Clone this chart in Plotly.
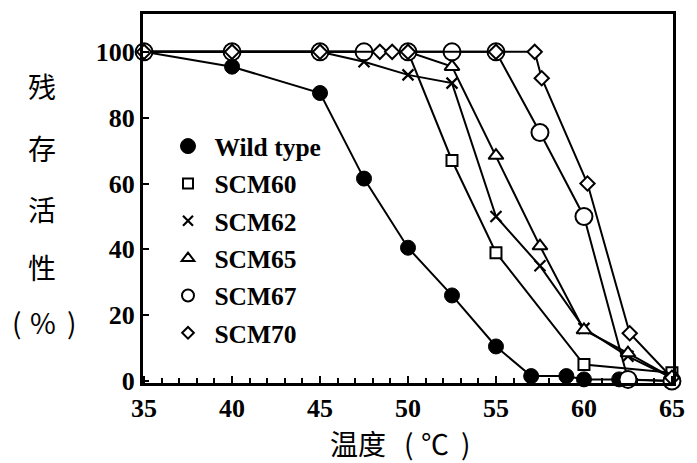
import plotly.graph_objects as go

# ---- data ----
wt_x = [35, 40, 45, 47.5, 50, 52.5, 55, 57, 59, 60, 62, 65]
wt_y = [100, 95.5, 87.5, 61.5, 40.5, 26, 10.5, 1.5, 1.5, 0.5, 0.5, 0]

scm60_x = [35, 40, 45, 47.5, 50, 52.5, 55, 60, 65]
scm60_y = [100, 100, 100, 100, 100, 67, 39, 5, 2.5]

scm62_x = [35, 40, 45, 47.5, 50, 52.5, 55, 57.5, 60, 62.5, 65]
scm62_y = [100, 100, 100, 97, 93, 90.5, 50, 35, 16, 7.5, 1]

scm65_x = [35, 40, 45, 50, 52.5, 55, 57.5, 60, 62.5, 65]
scm65_y = [100, 100, 100, 100, 95.5, 68.5, 41, 15.5, 8.5, 1]

scm67_x = [35, 40, 45, 47.5, 50, 52.5, 55, 57.5, 60, 62.5, 65]
scm67_y = [100, 100, 100, 100, 100, 100, 100, 75.5, 50, 0.5, 0]

scm70_x = [35, 40, 45, 48.4, 49.1, 50, 55, 57.2, 57.6, 60.2, 62.6, 65]
scm70_y = [100, 100, 100, 100, 100, 100, 100, 100, 92, 60, 14.5, 1]

names = ["Wild type", "SCM60", "SCM62", "SCM65", "SCM67", "SCM70"]
x_ticks = [35, 40, 45, 50, 55, 60, 65]
y_ticks = [0, 20, 40, 60, 80, 100]
y_title_chars = ["残", "存", "活", "性"]
y_title_unit = ["(", "%", ")"]
x_title_parts = ["温度", "(", "℃", ")"]

symbols = ["circle", "square", "x-thin", "triangle-up", "circle", "diamond"]
fills = ["black", "white", "black", "white", "white", "white"]
plot_sizes = [15, 11, 11, 13, 17, 11]
legend_sizes = [15, 10, 10, 11, 12, 9]
data = [(wt_x, wt_y), (scm60_x, scm60_y), (scm62_x, scm62_y),
        (scm65_x, scm65_y), (scm67_x, scm67_y), (scm70_x, scm70_y)]

fig = go.Figure()
for i, ((xs, ys), nm) in enumerate(zip(data, names)):
    lw = 2.2 if symbols[i] == "x-thin" else (1 if i == 0 else 2)
    fig.add_trace(go.Scatter(
        x=xs, y=ys, name=nm, mode="lines+markers", showlegend=False,
        line=dict(color="black", width=2),
        marker=dict(symbol=symbols[i], size=plot_sizes[i], color=fills[i],
                    line=dict(color="black", width=lw)),
        cliponaxis=False,
    ))
# legend entries (marker only, like the reference)
for i, nm in enumerate(names):
    lw = 2.2 if symbols[i] == "x-thin" else (1 if i == 0 else 2)
    fig.add_trace(go.Scatter(
        x=[None], y=[None], name="\u00a0" + nm, mode="markers", showlegend=True,
        legendgroup=f"g{i}",
        marker=dict(symbol=symbols[i], size=legend_sizes[i], color=fills[i],
                    line=dict(color="black", width=lw)),
    ))

serif = "Liberation Serif"
cjk = "Noto Sans CJK SC"
# the page body has an 8px margin, so the figure is offset by 8px
OFF = 8
W, H = 697 - OFF, 463 - OFF
PL, PT, PR, PB = 143, 14, 673, 383          # plot area in page pixels
L, T = PL - OFF, PT - OFF
R, B = (W + OFF) - PR, (H + OFF) - PB
plot_w, plot_h = PR - PL, PB - PT


def px_x(p):
    return (p - PL) / plot_w


def px_y(p):
    return 1 - (p - PT) / plot_h


fig.update_layout(
    width=W, height=H,
    margin=dict(l=L, r=R, t=T, b=B, autoexpand=False),
    paper_bgcolor="white", plot_bgcolor="white",
    showlegend=True,
    legend=dict(
        x=px_x(168), y=px_y(123), xanchor="left", yanchor="top",
        font=dict(family=serif, size=25.5, color="black", weight="bold"),
        bgcolor="rgba(0,0,0,0)", tracegroupgap=1.2, traceorder="grouped",
        itemsizing="trace",
    ),
    xaxis=dict(
        range=[34.94, 65.06], tickvals=x_ticks, ticktext=[str(v) for v in x_ticks],
        ticks="inside", ticklen=7, tickwidth=2, tickcolor="black",
        minor=dict(dtick=1, ticks="inside", ticklen=5, tickwidth=1.5, tickcolor="black"),
        showline=True, linecolor="black", linewidth=3, mirror=True,
        showgrid=False, zeroline=False,
        tickfont=dict(family=serif, size=26, color="black", weight="bold"),
    ),
    yaxis=dict(
        range=[-0.6, 111.5], tickvals=y_ticks, ticktext=[str(v) for v in y_ticks],
        ticks="inside", ticklen=6, tickwidth=2, tickcolor="black",
        showline=True, linecolor="black", linewidth=3, mirror=True,
        showgrid=False, zeroline=False,
        tickfont=dict(family=serif, size=26, color="black", weight="bold"),
    ),
)


def label(text, x, y, size=28):
    fig.add_annotation(
        text=text, xref="paper", yref="paper", x=px_x(x), y=px_y(y),
        showarrow=False, xanchor="center", yanchor="middle",
        font=dict(family=cjk, size=size, color="black"),
    )


# vertical y-axis title (one character per line)
for ch, py in zip(y_title_chars, [86, 148, 209, 267]):
    label(ch, 42, py)
for ch, pxx in zip(y_title_unit, [16, 43, 71]):
    label(ch, pxx, 322)

# x-axis title
for ch, pxx in zip(x_title_parts, [358, 408, 435, 465]):
    label(ch, pxx, 443, size=28)

fig.write_html("out.html")
